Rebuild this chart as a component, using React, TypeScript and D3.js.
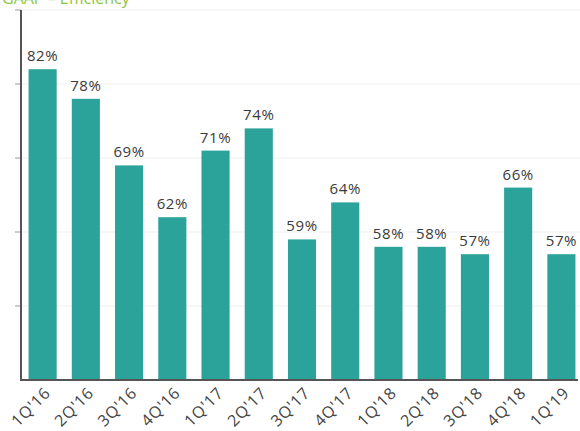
import React from "react";
import * as d3 from "d3";

const categories = ["1Q'16", "2Q'16", "3Q'16", "4Q'16", "1Q'17", "2Q'17", "3Q'17", "4Q'17", "1Q'18", "2Q'18", "3Q'18", "4Q'18", "1Q'19"];
const values = [82, 78, 69, 62, 71, 74, 59, 64, 58, 58, 57, 66, 57];
const yTicks = [40, 50, 60, 70, 80, 90];
const title = "GAAP – Efficiency";

const W = 580;
const H = 431;
const left = 21;
const right = 583;
const baseY = 380;
const topY = 10;

export default function App() {
  const x = d3.scaleBand<string>().domain(categories).range([left, right]).paddingInner(0.35).paddingOuter(0.175);
  const y = d3.scaleLinear().domain([40, 90]).range([baseY, topY]);
  const font = "'Open Sans', 'DejaVu Sans', sans-serif";
  return (
    <svg width={W} height={H} style={{ position: "absolute", left: 0, top: 0, background: "#fff" }} fontFamily={font}>
      <text x={2} y={4} fill="#8cc63f" fontSize={16}>{title}</text>
      {yTicks.slice(1).map((t) => (
        <g key={t}>
          <line x1={left} x2={W} y1={y(t)} y2={y(t)} stroke="#efefef" strokeWidth={1} />
          <line x1={15} x2={left} y1={y(t)} y2={y(t)} stroke="#999" strokeWidth={1} />
        </g>
      ))}
      {categories.map((c, i) => (
        <g key={c}>
          <rect x={x(c)} y={y(values[i])} width={x.bandwidth()} height={baseY - y(values[i])} fill="#2ba39a" />
          <text x={(x(c) as number) + x.bandwidth() / 2} y={y(values[i]) - 8} textAnchor="middle" fontSize={15} letterSpacing={0.6} fill="#3a3a3a">{values[i]}%</text>
          <text transform={`translate(${(x(c) as number) + x.bandwidth() / 2 + 5},${baseY + 10}) rotate(-45)`} textAnchor="end" fontSize={16} letterSpacing={0.8} fill="#444" dy="0.35em">{c}</text>
        </g>
      ))}
      <line x1={left} x2={W - 2} y1={baseY} y2={baseY} stroke="#555" strokeWidth={2} />
      <line x1={left} x2={left} y1={topY} y2={baseY + 1} stroke="#5a5252" strokeWidth={2} />
    </svg>
  );
}
